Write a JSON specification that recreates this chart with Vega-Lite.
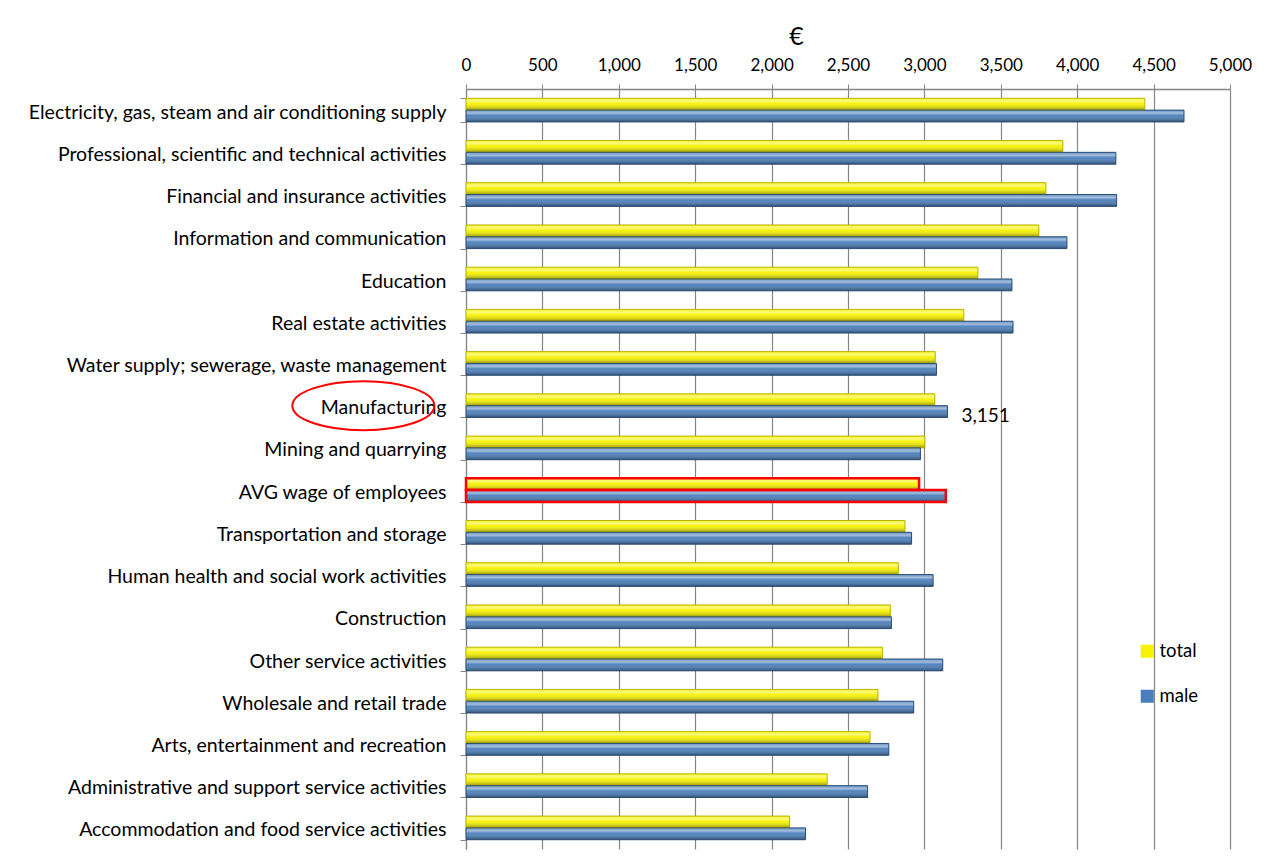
{
  "$schema": "https://vega.github.io/schema/vega-lite/v6.json",
  "autosize": {"type": "none"},
  "width": 764,
  "height": 760,
  "padding": {"left": 466, "top": 89, "right": 40, "bottom": 11},
  "background": "white",
  "config": {
    "view": {"stroke": null},
    "font": "Lato",
    "axis": {"labelFont": "Lato", "titleFont": "Lato", "labelColor": "#000000", "titleColor": "#000000", "domainColor": "#868686", "tickColor": "#868686", "gridColor": "#868686"},
    "legend": {"labelFont": "Lato"}
  },
  "datasets": {
    "wages": [
      {"category": "Electricity, gas, steam and air conditioning supply", "series": "total", "value": 4443},
      {"category": "Electricity, gas, steam and air conditioning supply", "series": "male", "value": 4699},
      {"category": "Professional, scientific and technical activities", "series": "total", "value": 3906},
      {"category": "Professional, scientific and technical activities", "series": "male", "value": 4253},
      {"category": "Financial and insurance activities", "series": "total", "value": 3795},
      {"category": "Financial and insurance activities", "series": "male", "value": 4258},
      {"category": "Information and communication", "series": "total", "value": 3749},
      {"category": "Information and communication", "series": "male", "value": 3933},
      {"category": "Education", "series": "total", "value": 3350},
      {"category": "Education", "series": "male", "value": 3573},
      {"category": "Real estate activities", "series": "total", "value": 3258},
      {"category": "Real estate activities", "series": "male", "value": 3580},
      {"category": "Water supply; sewerage, waste management", "series": "total", "value": 3071},
      {"category": "Water supply; sewerage, waste management", "series": "male", "value": 3079},
      {"category": "Manufacturing", "series": "total", "value": 3068},
      {"category": "Manufacturing", "series": "male", "value": 3151},
      {"category": "Mining and quarrying", "series": "total", "value": 3003},
      {"category": "Mining and quarrying", "series": "male", "value": 2974},
      {"category": "AVG wage of employees", "series": "total", "value": 2965},
      {"category": "AVG wage of employees", "series": "male", "value": 3140},
      {"category": "Transportation and storage", "series": "total", "value": 2873},
      {"category": "Transportation and storage", "series": "male", "value": 2916},
      {"category": "Human health and social work activities", "series": "total", "value": 2829},
      {"category": "Human health and social work activities", "series": "male", "value": 3057},
      {"category": "Construction", "series": "total", "value": 2777},
      {"category": "Construction", "series": "male", "value": 2784},
      {"category": "Other service activities", "series": "total", "value": 2725},
      {"category": "Other service activities", "series": "male", "value": 3120},
      {"category": "Wholesale and retail trade", "series": "total", "value": 2696},
      {"category": "Wholesale and retail trade", "series": "male", "value": 2930},
      {"category": "Arts, entertainment and recreation", "series": "total", "value": 2644},
      {"category": "Arts, entertainment and recreation", "series": "male", "value": 2767},
      {"category": "Administrative and support service activities", "series": "total", "value": 2364},
      {"category": "Administrative and support service activities", "series": "male", "value": 2628},
      {"category": "Accommodation and food service activities", "series": "total", "value": 2118},
      {"category": "Accommodation and food service activities", "series": "male", "value": 2222}
    ],
    "label": [
      {"category": "Manufacturing", "series": "male", "value": 3151, "text": "3,151"}
    ],
    "circle": [
      {"category": "Manufacturing", "value": -672}
    ]
  },
  "encoding": {
    "y": {
      "field": "category",
      "type": "nominal",
      "title": null,
      "scale": {
        "domain": [
          "Electricity, gas, steam and air conditioning supply",
          "Professional, scientific and technical activities",
          "Financial and insurance activities",
          "Information and communication",
          "Education",
          "Real estate activities",
          "Water supply; sewerage, waste management",
          "Manufacturing",
          "Mining and quarrying",
          "AVG wage of employees",
          "Transportation and storage",
          "Human health and social work activities",
          "Construction",
          "Other service activities",
          "Wholesale and retail trade",
          "Arts, entertainment and recreation",
          "Administrative and support service activities",
          "Accommodation and food service activities"
        ],
        "paddingInner": 0.44,
        "paddingOuter": 0.22
      },
      "axis": {"labelFontSize": 19.5, "labelPadding": 14, "labelOffset": 2, "tickSize": 6, "tickBand": "extent", "labelLimit": 460, "domainWidth": 1.2, "labelBaseline": "middle"}
    }
  },
  "layer": [
    {
      "data": {"name": "wages"},
      "mark": {"type": "bar", "cornerRadius": 0},
      "encoding": {
        "x": {
          "field": "value",
          "type": "quantitative",
          "scale": {"domain": [0, 5000], "nice": false},
          "axis": {
            "orient": "top",
            "values": [0, 500, 1000, 1500, 2000, 2500, 3000, 3500, 4000, 4500, 5000],
            "format": ",d",
            "title": "€",
            "titleFontSize": 25,
            "titleFontWeight": "normal",
            "titleX": 330,
            "titleY": -45,
            "titleBaseline": "alphabetic",
            "labelFontSize": 17,
            "labelPadding": 10,
            "tickSize": 5,
            "grid": true,
            "gridWidth": 1.2,
            "domainWidth": 1.5,
            "labelFlush": false
          }
        },
        "yOffset": {"field": "series", "type": "nominal", "scale": {"domain": ["total", "male"], "paddingInner": 0, "paddingOuter": 0}},
        "color": {
          "field": "series",
          "type": "nominal",
          "scale": {"domain": ["total", "male"], "range": ["#F7F200", "#4A7EBB"]},
          "legend": {
            "title": null,
            "orient": "none",
            "legendX": 672,
            "legendY": 553,
            "symbolType": "square",
            "symbolSize": 170,
            "symbolStrokeWidth": 0,
            "labelFontSize": 18.5,
            "rowPadding": 26,
            "labelOffset": 3
          }
        }
      }
    },
    {
      "data": {"name": "wages"},
      "mark": {
        "type": "bar",
        "fill": {
          "gradient": "linear", "x1": 0, "y1": 0, "x2": 0, "y2": 1,
          "stops": [
            {"offset": 0, "color": "rgba(255,255,255,0.15)"},
            {"offset": 0.25, "color": "rgba(255,255,255,0.5)"},
            {"offset": 0.45, "color": "rgba(255,255,255,0.05)"},
            {"offset": 1, "color": "rgba(0,0,0,0.4)"}
          ]
        }
      },
      "encoding": {
        "x": {"field": "value", "type": "quantitative"},
        "yOffset": {"field": "series", "type": "nominal"},
        "stroke": {
          "condition": {"test": "datum.category === 'AVG wage of employees'", "value": "#FF0000"},
          "field": "series",
          "type": "nominal",
          "scale": {"domain": ["total", "male"], "range": ["#B8B400", "#2C4D75"]},
          "legend": null
        },
        "strokeWidth": {
          "condition": {"test": "datum.category === 'AVG wage of employees'", "value": 2.5},
          "value": 1
        }
      }
    },
    {
      "data": {"name": "label"},
      "mark": {"type": "text", "align": "left", "baseline": "middle", "dx": 14, "dy": 4, "fontSize": 19, "font": "Lato", "color": "#000000"},
      "encoding": {
        "x": {"field": "value", "type": "quantitative"},
        "yOffset": {"field": "series", "type": "nominal"},
        "text": {"field": "text"}
      }
    },
    {
      "data": {"name": "circle"},
      "mark": {
        "type": "point",
        "shape": "M-1,0 A1,0.345 0 1,1 1,0 A1,0.345 0 1,1 -1,0 Z",
        "size": 20164,
        "filled": false,
        "stroke": "#FF0000",
        "strokeWidth": 2,
        "opacity": 1
      },
      "encoding": {
        "x": {"field": "value", "type": "quantitative"}
      }
    }
  ]
}
